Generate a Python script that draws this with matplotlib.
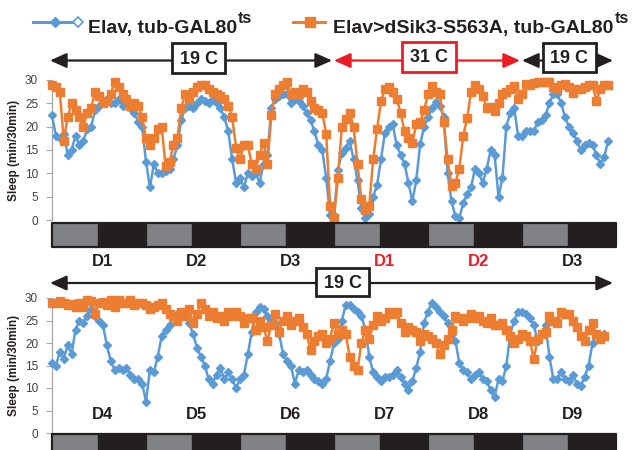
import numpy as np
import matplotlib
matplotlib.use("Agg")
import matplotlib.pyplot as plt
import matplotlib.transforms as mtransforms
from matplotlib.patches import Rectangle, FancyArrowPatch

plt.rcParams['font.family'] = ['Liberation Sans', 'DejaVu Sans']

# ---- sleep per 30 min, sampled hourly (24 points per day) ----
# upper panel: 19 C (3 days) -> 31 C (2 days) -> 19 C (1 day)
top_control = (
    [22.5, 18, 17.5, 18.5, 14, 15, 18, 16, 17, 19.5, 20, 23.5, 24.5, 25.5, 26, 25, 25, 26, 24.5, 25, 24, 23, 21, 20]
    + [12.5, 7, 12, 10, 10, 10.5, 11, 13, 16, 21.5, 24, 24.5, 24, 25, 26, 25.5, 25, 26, 25, 24, 22, 19, 13, 8]
    + [9, 7, 10, 9.5, 10, 8, 12, 14, 24, 26, 26.5, 27, 27, 25, 26, 25.5, 24.5, 23, 21.5, 19, 16, 15, 9, 1]
    + [1, 10.8, 14.4, 15.5, 17, 13, 8.5, 2.5, 0.4, 1.2, 5, 7.5, 13, 18.7, 20, 20.5, 16, 14, 12, 8, 4, 8.5, 16.2, 20]
    + [22, 24, 25.3, 24.5, 22, 10, 4, 0.8, 0.5, 3.6, 5.5, 7, 11, 10, 8, 11, 15, 14, 5, 9, 20, 23, 24, 18]
    + [18, 19, 19, 19, 21, 21.5, 22.5, 25, 27, 27, 25, 22, 20, 18.7, 17, 15, 16, 16.5, 16, 14, 12, 13.5, 17]
)
top_mutant = (
    [29, 28.5, 27.5, 17, 22, 25, 23.5, 22, 20, 23, 24, 27.5, 26.5, 25, 25.5, 27, 29.5, 28.5, 27, 26, 24.5, 25, 24.5, 22]
    + [17.5, 16, 17.5, 19.5, 20, 11.5, 12.5, 16, 17.5, 24, 27, 26, 27.5, 28.5, 29, 29, 28, 27.5, 27, 26.5, 26, 24.5, 22, 15.5]
    + [13, 16, 16, 12, 11, 14, 16.5, 12, 22.5, 27, 28, 29, 29.5, 27, 27.5, 27, 28, 27.5, 25.5, 24, 23.5, 23, 18.5, 3]
    + [0.5, 9, 20, 21.6, 23, 20, 12, 4.5, 2.2, 3, 13, 19.5, 25.5, 28, 28.4, 27.5, 26, 23, 19, 17.6, 16.5, 20.5, 21, 23.5]
    + [27, 28.8, 27.5, 27, 21, 13, 7.2, 8, 11, 18, 21.9, 27.5, 29, 28, 26.5, 24, 24.3, 23.4, 25, 27, 27.5, 28, 28.8, 26]
    + [27, 29.1, 29, 29.3, 29.5, 29.5, 29.5, 29.5, 28.5, 28, 29, 29.1, 28.5, 27.3, 28, 28, 28.4, 29, 29, 25.5, 28, 29, 29]
)
# lower panel: continued at 19 C (days 4-9)
bottom_control = (
    [15.5, 15, 18, 16.5, 19.5, 17.5, 23, 25, 24.5, 26, 27.5, 26, 25, 24, 19.5, 16, 14, 14.5, 14, 14.5, 13, 12, 12, 11]
    + [7, 14, 13.5, 17, 21.5, 23, 24, 26, 26.5, 26, 26, 24.5, 22, 19, 17, 15, 12, 11, 13, 14.5, 12, 13.5, 12, 10]
    + [12, 13, 17.5, 22.5, 27, 28, 27.5, 26, 25, 24.5, 22, 17.5, 16, 15, 11, 14, 13.5, 14, 13, 12, 11.5, 11, 12, 16]
    + [20, 21, 25, 28.5, 28.5, 27.5, 27, 26, 23, 17, 13.5, 12.5, 11.5, 12.5, 12.5, 13, 14, 12.5, 11, 9.5, 11.5, 14.5, 18, 24.5]
    + [27, 29, 28, 27, 26, 24.5, 22, 20.5, 15.5, 14, 13.5, 12, 13, 13.5, 12, 11.5, 9.5, 8, 12, 11.5, 15, 22, 25, 27]
    + [27, 26.5, 25.5, 24, 20.5, 22, 24, 17, 12, 12, 13.5, 12, 11.5, 13, 11, 10.5, 12.5, 15, 20, 22, 21, 22]
)
bottom_mutant = (
    [29, 29, 29.3, 29, 28.5, 28.7, 28, 28.8, 28, 29.5, 29.3, 26.5, 29, 29.2, 28.5, 29.5, 28, 29.5, 29, 28.8, 29.5, 28.5, 29, 28.8]
    + [28.5, 27.5, 28, 28.5, 29, 27.5, 26.5, 26, 25, 27, 26, 27.5, 24.5, 26.5, 29, 27.5, 26, 27, 25.5, 26, 25, 27, 26, 27]
    + [26, 24.5, 25.5, 25.5, 23, 25, 23.5, 20.5, 24, 26.5, 22.5, 25, 26, 24, 25, 25.5, 23.5, 22, 18.5, 20.5, 21.5, 22, 20, 21]
    + [24.5, 22, 23, 22, 17, 15, 14, 20, 23, 21, 24, 26, 25, 25.5, 27, 26.5, 27, 24.5, 22.5, 23.5, 23, 22.5, 20.5, 22]
    + [21.5, 21, 20, 17.5, 19.5, 21, 23, 26, 25.5, 25, 25.5, 26.5, 25.5, 26, 25, 24.5, 25.5, 24, 24, 24.5, 23, 21.5, 20, 21]
    + [22, 21.5, 20.5, 16.5, 21, 22, 22.5, 26, 25, 24.5, 27, 26.5, 26.5, 25, 23.5, 21.5, 20.5, 23, 24.5, 22, 21, 21.5]
)

top_days = ['D1', 'D2', 'D3', 'D1', 'D2', 'D3']
top_day_red = [False, False, False, True, True, False]
bottom_days = ['D4', 'D5', 'D6', 'D7', 'D8', 'D9']
y_ticks = [0, 5, 10, 15, 20, 25, 30]
legend_control = 'Elav, tub-GAL80'
legend_mutant = 'Elav>dSik3-S563A, tub-GAL80'

BLUE = '#5B9BD5'
ORANGE = '#ED7D31'
RED = '#ED1C24'
INK = '#231F20'
GREY = '#808285'

W, H = 635, 450
fig = plt.figure(figsize=(W / 100, H / 100), dpi=100)


def px_rect(x0, y0, x1, y1):
    return [x0 / W, 1 - y1 / H, (x1 - x0) / W, (y1 - y0) / H]


X0, X1 = 52, 616
N_HOURS = 144


def light_dark_bar(y0, y1):
    bx = fig.add_axes(px_rect(X0, y0, X1, y1))
    bx.set_xlim(0, N_HOURS)
    bx.set_ylim(0, 1)
    bx.axis('off')
    for d in range(6):
        bx.broken_barh([(24 * d, 12), (24 * d + 12, 12)], (0, 1),
                       facecolors=[GREY, INK], edgecolor=INK, linewidth=1.6,
                       clip_on=False)


def panel(y_top, y_bot, control, mutant, days, red_flags, label_frac):
    ax = fig.add_axes(px_rect(X0, y_top, X1, y_bot))
    ax.set_xlim(0, N_HOURS)
    ax.set_ylim(0, 30)
    ax.patch.set_alpha(0)
    for s in ['top', 'right', 'bottom']:
        ax.spines[s].set_visible(False)
    ax.spines['left'].set_color('#A6A6A6')
    ax.spines['left'].set_linewidth(0.9)
    ax.set_xticks([])
    ax.set_yticks(y_ticks)
    ax.tick_params(axis='y', direction='out', length=4, width=0.8,
                   color='#A6A6A6', labelsize=8.5, labelcolor='#404040', pad=6)
    ax.plot(np.arange(len(control)), control, '-D', color=BLUE, ms=3.6,
            lw=1.8, clip_on=False, zorder=3)
    ax.plot(np.arange(len(mutant)), mutant, '-s', color=ORANGE, ms=5.4,
            lw=1.8, clip_on=False, zorder=4)
    ax.set_ylabel('Sleep (min/30min)', fontsize=8.5, fontweight='bold',
                  color=INK)
    ax.yaxis.label.set_va('center')
    ax.yaxis.set_label_coords(-0.067, 0.5)
    tr = mtransforms.blended_transform_factory(ax.transData, ax.transAxes)
    for d, (lab, red) in enumerate(zip(days, red_flags)):
        ax.text(24 * d + 12.8, label_frac, lab, transform=tr, ha='center',
                va='center', fontsize=12, fontweight='bold',
                color=RED if red else INK, clip_on=False)
    return ax


panel(80, 220, top_control, top_mutant, top_days, top_day_red, -0.30)
light_dark_bar(223, 247)
panel(298, 433, bottom_control, bottom_mutant, bottom_days,
      [False] * 6, 0.135)
light_dark_bar(434, 458)

# ---- overlay in pixel coordinates: legend, temperature arrows ----
ov = fig.add_axes([0, 0, 1, 1], zorder=10)
ov.set_xlim(0, W)
ov.set_ylim(H, 0)
ov.axis('off')
ov.patch.set_alpha(0)

# legend
ov.plot([33, 77], [22, 22], color=BLUE, lw=2.2)
ov.plot([55], [22], 'D', color=BLUE, ms=5.5)
ov.plot([78], [22], 'D', mfc='white', mec=BLUE, ms=5.5, mew=1.2)
ov.plot([293, 325], [22, 22], color=ORANGE, lw=2.2)
ov.plot([310], [22], 's', color=ORANGE, ms=7)

t1 = ov.text(88, 33, legend_control, fontsize=14, fontweight='bold',
             color=INK, va='baseline')
t2 = ov.text(333, 33, legend_mutant, fontsize=14, fontweight='bold',
             color=INK, va='baseline')
fig.canvas.draw()
renderer = fig.canvas.get_renderer()
inv = ov.transData.inverted()
for t in (t1, t2):
    bb = t.get_window_extent(renderer)
    xe = inv.transform((bb.x1, bb.y0))[0]
    ov.text(xe + 1, 23, 'ts', fontsize=11.5, fontweight='bold',
            color=INK, va='baseline')


def temp_arrow(x0, x1, y, color):
    ov.add_patch(FancyArrowPatch((x0, y), (x1, y),
                                 arrowstyle='<|-|>,head_length=1.0,head_width=0.45',
                                 mutation_scale=10, color=color, lw=1.6,
                                 shrinkA=0, shrinkB=0))


def temp_box(x0, x1, y0, y1, label, color):
    ov.add_patch(Rectangle((x0, y0), x1 - x0, y1 - y0, facecolor='white',
                           edgecolor=color, lw=2.0, zorder=5))
    ov.text((x0 + x1) / 2, (y0 + y1) / 2 + 1, label, ha='center', va='center',
            fontsize=13, fontweight='bold', color=INK, zorder=6)


temp_arrow(50, 332, 60.5, INK)
temp_arrow(334, 520, 60.5, RED)
temp_arrow(522, 613, 60.5, INK)
temp_box(172, 225, 43, 73, '19 C', INK)
temp_box(402, 456, 42, 72, '31 C', RED)
temp_box(543, 596, 43, 72, '19 C', INK)

temp_arrow(50, 613, 283, INK)
temp_box(316, 369, 268, 296, '19 C', INK)

fig.savefig('out.png', dpi=100)
